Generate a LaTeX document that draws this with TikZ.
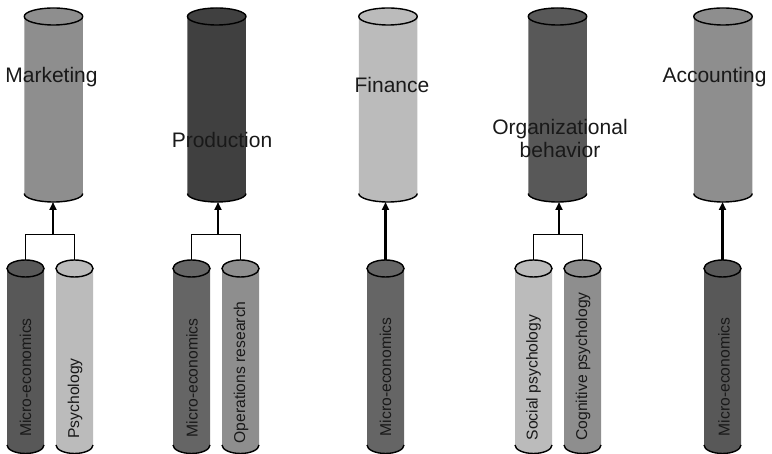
\documentclass[tikz,border=0pt]{standalone}
\usepackage{fontspec}
\setmainfont{Liberation Sans}
\usetikzlibrary{arrows.meta}
\definecolor{gA}{HTML}{8E8E8E}
\definecolor{gB}{HTML}{404040}
\definecolor{gC}{HTML}{BBBBBB}
\definecolor{gD}{HTML}{585858}
\definecolor{gE}{HTML}{656565}
\newcommand{\mycyl}[7]{% name, cx, ytop centre, ybottom centre, half width, ry, colour
  \fill[#7] (#2-#5,#3) -- (#2-#5,#4) arc[start angle=180,end angle=360,x radius=#5,y radius=#6] -- (#2+#5,#3) -- cycle;
  \filldraw[fill=#7,draw=black,line width=1.4pt] (#2,#3) ellipse[x radius=#5,y radius=#6];
  \draw[line width=1.4pt] (#2-#5,#4) arc[start angle=180,end angle=360,x radius=#5,y radius=#6];
  \coordinate (#1-top) at (#2,#3+#6);
  \coordinate (#1-bot) at (#2,#4-#6);
}
\newcommand{\bigcyl}[3]{\mycyl{#1}{#2}{437.5}{260.5}{29.25}{8.5}{#3}}
\newcommand{\smallcyl}[3]{\mycyl{#1}{#2}{185.5}{9}{18.5}{8.5}{#3}}
\tikzset{
  bigtext/.style={font=\fontsize{21}{23}\selectfont, text=black!90, inner sep=0pt, align=center},
  smalltext/.style={font=\fontsize{15.7}{18}\selectfont, text=black!90, inner sep=0pt, rotate=90},
  arr/.style={line width=2.2pt, -{Triangle[length=8pt,width=7pt]}},
  joinline/.style={line width=1.4pt},
}
\begin{document}
\begin{tikzpicture}[x=1pt,y=1pt]
\useasboundingbox (0,0) rectangle (772,454);
% big cylinders
\bigcyl{mkt}{53.5}{gA}
\bigcyl{prd}{216.7}{gB}
\bigcyl{fin}{388}{gC}
\bigcyl{org}{557.5}{gD}
\bigcyl{acc}{723}{gA}
% small cylinders
\smallcyl{mkta}{25.5}{gD}
\smallcyl{mktb}{74.5}{gC}
\smallcyl{prda}{191.5}{gE}
\smallcyl{prdb}{240.5}{gA}
\smallcyl{fina}{385.5}{gE}
\smallcyl{orga}{533.5}{gC}
\smallcyl{orgb}{582.5}{gA}
\smallcyl{acca}{722.5}{gD}
% big labels
\node[bigtext] (lmkt) at (51.5,377) {Marketing};
\node[bigtext] (lprd) at (222,314) {Production};
\node[bigtext] (lfin) at (392,369) {Finance};
\node[bigtext] (lorg) at (560,315) {Organizational\\behavior};
\node[bigtext] (lacc) at (714.5,377) {Accounting};
% small labels
\node[smalltext] (tmkta) at (25.5,76.5) {Micro-economics};
\node[smalltext] (tmktb) at (75,55.5) {Psychology};
\node[smalltext] (tprda) at (192,76) {Micro-economics};
\node[smalltext] (tprdb) at (241,81.5) {Operations research};
\node[smalltext] (tfina) at (385.5,77) {Micro-economics};
\node[smalltext] (torga) at (533.5,76.5) {Social psychology};
\node[smalltext] (torgb) at (583,87.5) {Cognitive psychology};
\node[smalltext] (tacca) at (724,77) {Micro-economics};
% junctions
\coordinate (mktj) at (53,219.5);
\coordinate (prdj) at (218,219.5);
\coordinate (orgj) at (559,219.5);
\draw[joinline] (mkta-top) |- (mktj) -| (mktb-top);
\draw[joinline] (prda-top) |- (prdj) -| (prdb-top);
\draw[joinline] (orga-top) |- (orgj) -| (orgb-top);
% arrows
\draw[arr] (mktj) -- (mktj |- mkt-bot);
\draw[arr] (prdj) -- (prdj |- prd-bot);
\draw[arr] (orgj) -- (orgj |- org-bot);
\draw[arr] (fina-top) -- (fina-top |- fin-bot);
\draw[arr] (acca-top) -- (acca-top |- acc-bot);
\end{tikzpicture}
\end{document}
